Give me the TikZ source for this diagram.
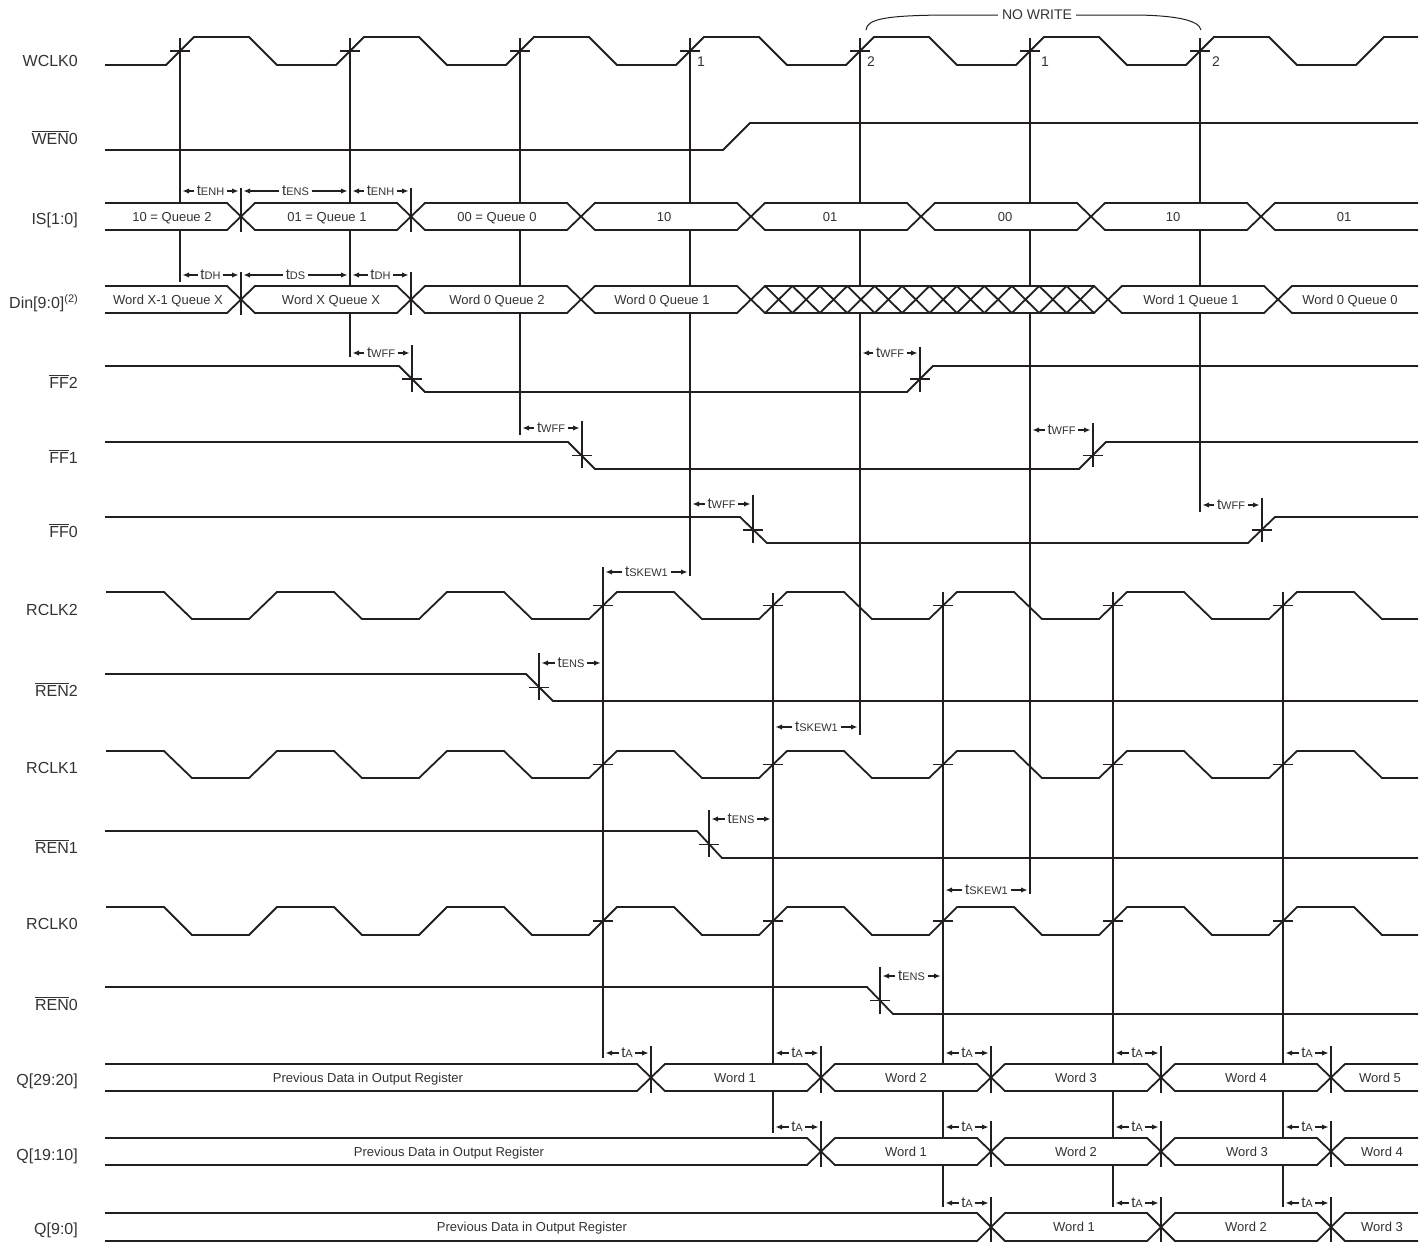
\documentclass[tikz,border=0pt]{standalone}
\usepackage{fontspec}
\setmainfont{Liberation Sans}
\usetikzlibrary{arrows.meta}
\definecolor{ink}{HTML}{231F20}
\definecolor{txt}{HTML}{333333}
\newcommand\ovl[1]{\ensuremath{\overline{\mbox{#1}}}}
\newcommand\tsb[1]{{\fontsize{15}{15}\selectfont t}{\fontsize{11}{11}\selectfont #1}}
\tikzset{
 sig/.style={draw=ink, line width=1.8pt, line join=miter},
 vln/.style={draw=ink, line width=1.5pt},
 tk/.style={draw=ink, line width=1.5pt},
 dimarr/.style={draw=ink, line width=1.3pt, -{Latex[length=6.5pt,width=5.5pt]}},
 tlab/.style={text=txt, inner sep=2.5pt},
 siglab/.style={text=txt, anchor=base east, font=\fontsize{16}{19}\selectfont, inner sep=0pt},
 bustxt/.style={text=txt, font=\fontsize{13}{15}\selectfont, inner sep=0pt, anchor=base},
 num/.style={text=txt, font=\fontsize{14}{16}\selectfont, inner sep=0pt},
 brace/.style={draw=ink, line width=1pt},
}
% bus segment between two transitions
\newcommand\bseg[7]{%
 \draw[sig,fill=white] ({#3+14},#1) -- ({#4-14},#1) -- (#4,{(#1+#2)/2}) -- ({#4-14},#2) -- ({#3+14},#2) -- (#3,{(#1+#2)/2}) -- cycle;
 \node[bustxt] (#7) at (#5,{(#1+#2)/2+4.7}) {#6};}
% open on the left
\newcommand\bsegL[7]{%
 \draw[sig,fill=white] (#3,#1) -- ({#4-14},#1) -- (#4,{(#1+#2)/2}) -- ({#4-14},#2) -- (#3,#2);
 \node[bustxt] (#7) at (#5,{(#1+#2)/2+4.7}) {#6};}
% open on the right
\newcommand\bsegR[7]{%
 \draw[sig,fill=white] (#4,#1) -- ({#3+14},#1) -- (#3,{(#1+#2)/2}) -- ({#3+14},#2) -- (#4,#2);
 \node[bustxt] (#7) at (#5,{(#1+#2)/2+4.7}) {#6};}
% timing dimension
\newcommand\dimA[5]{%
 \node[tlab] (#1) at ({(#2+#3)/2},#4) {\tsb{#5}};
 \draw[dimarr] (#1.west) -- ({#2+2.5},#4);
 \draw[dimarr] (#1.east) -- ({#3-2.5},#4);}
% read clock
\newcommand\rclk[2]{%
 \draw[sig] (106,#1) -- (164,#1) -- (192,#2) foreach \r in {263,433,...,1283} { -- ({\r-14},#2) -- ({\r+14},#1) -- ({\r+71},#1) -- ({\r+99},#2) } -- (1418,#2);}
\begin{document}
\begin{tikzpicture}[x=1pt,y=-1pt]
\useasboundingbox (0,0) rectangle (1427,1243);
% ---------- long vertical reference lines
\foreach \xx/\ya/\yb in {180/38/282, 350/38/357, 520/38/435, 690/38/576, 860/38/735, 1030/38/894, 1200/38/512,
  412/345/392, 920/347/392, 582/421/468, 1093/423/467, 753/495/543, 1262/498/542,
  603/567/1058, 773/593/1133, 943/592/1207, 1113/592/1207, 1283/592/1207,
  539/653/700, 709/810/857, 880/967/1014}
  \draw[vln] (\xx,\ya) -- (\xx,\yb);
% ---------- WCLK0
\draw[sig] (105,65) foreach \r in {180,350,...,1200} { -- ({\r-14},65) -- ({\r+14},37) -- ({\r+69},37) -- ({\r+97},65) } -- (1356,65) -- (1384,37) -- (1418,37);
% ---------- WEN0
\draw[sig] (105,150) -- (723,150) -- (750,123) -- (1418,123);
% ---------- IS[1:0]
\bsegL{203}{230}{105}{241}{172}{10 = Queue 2}{is1}
\bseg{203}{230}{241}{411}{327}{01 = Queue 1}{is2}
\bseg{203}{230}{411}{581}{497}{00 = Queue 0}{is3}
\bseg{203}{230}{581}{751}{664}{10}{is4}
\bseg{203}{230}{751}{921}{830}{01}{is5}
\bseg{203}{230}{921}{1091}{1005}{00}{is6}
\bseg{203}{230}{1091}{1261}{1173}{10}{is7}
\bsegR{203}{230}{1261}{1418}{1344}{01}{is8}
% ---------- Din[9:0]
\bsegL{286}{313}{105}{241}{168}{Word X-1 Queue X}{d1}
\bseg{286}{313}{241}{411}{331}{Word X Queue X}{d2}
\bseg{286}{313}{411}{581}{497}{Word 0 Queue 2}{d3}
\bseg{286}{313}{581}{751}{662}{Word 0 Queue 1}{d4}
\bseg{286}{313}{751}{1108}{930}{}{d5}
\foreach \k in {0,...,11}
  \draw[sig] ({765+27.4167*\k},286) -- ({765+27.4167*(\k+1)},313) ({765+27.4167*\k},313) -- ({765+27.4167*(\k+1)},286);
\bseg{286}{313}{1108}{1278}{1191}{Word 1 Queue 1}{d6}
\bsegR{286}{313}{1278}{1418}{1350}{Word 0 Queue 0}{d7}
% ---------- FF lines
\draw[sig] (105,366) -- (399,366) -- (425,392) -- (907,392) -- (933,366) -- (1418,366);
\draw[sig] (105,442) -- (568,442) -- (595,469) -- (1079,469) -- (1106,442) -- (1418,442);
\draw[sig] (105,517) -- (740,517) -- (767,543) -- (1248,543) -- (1275,517) -- (1418,517);
% ---------- read clocks and enables
\rclk{592}{619}
\draw[sig] (105,674) -- (526,674) -- (553,701) -- (1418,701);
\rclk{751}{778}
\draw[sig] (105,831) -- (697,831) -- (722,858) -- (1418,858);
\rclk{907}{935}
\draw[sig] (105,987) -- (867,987) -- (893,1014) -- (1418,1014);
% ---------- Q[29:20]
\bsegL{1064}{1091}{105}{651}{368}{Previous Data in Output Register}{qa1}
\bseg{1064}{1091}{651}{821}{735}{Word 1}{qa2}
\bseg{1064}{1091}{821}{991}{906}{Word 2}{qa3}
\bseg{1064}{1091}{991}{1161}{1076}{Word 3}{qa4}
\bseg{1064}{1091}{1161}{1331}{1246}{Word 4}{qa5}
\bsegR{1064}{1091}{1331}{1418}{1380}{Word 5}{qa6}
% ---------- Q[19:10]
\bsegL{1138}{1165}{105}{821}{449}{Previous Data in Output Register}{qb1}
\bseg{1138}{1165}{821}{991}{906}{Word 1}{qb2}
\bseg{1138}{1165}{991}{1161}{1076}{Word 2}{qb3}
\bseg{1138}{1165}{1161}{1331}{1247}{Word 3}{qb4}
\bsegR{1138}{1165}{1331}{1418}{1382}{Word 4}{qb5}
% ---------- Q[9:0]
\bsegL{1213}{1241}{105}{991}{532}{Previous Data in Output Register}{qc1}
\bseg{1213}{1241}{991}{1161}{1074}{Word 1}{qc2}
\bseg{1213}{1241}{1161}{1331}{1246}{Word 2}{qc3}
\bsegR{1213}{1241}{1331}{1418}{1382}{Word 3}{qc4}
% ---------- short reference marks on buses
\foreach \xx/\ya/\yb in {241/188/232, 411/188/232, 241/272/315, 411/272/315,
  651/1046/1093, 821/1046/1093, 991/1046/1093, 1161/1046/1093, 1331/1046/1093,
  821/1121/1167, 991/1121/1167, 1161/1121/1167, 1331/1121/1167,
  991/1197/1242, 1161/1197/1242, 1331/1197/1242}
  \draw[vln] (\xx,\ya) -- (\xx,\yb);
% ---------- crossing ticks
\foreach \xx/\yy in {180/51, 350/51, 520/51, 690/51, 860/51, 1030/51, 1200/51,
  412/379, 920/379, 582/455.5, 1093/455.5, 753/530, 1262/530,
  539/687.5, 709/844.5, 880/1000.5}
  \draw[tk] ({\xx-10},\yy) -- ({\xx+10},\yy);
\foreach \xx in {603,773,943,1113,1283}
  \foreach \yy in {605.5,764.5,921}
    \draw[tk] ({\xx-10},\yy) -- ({\xx+10},\yy);
% ---------- edge numbers
\node[num] (n1) at (701,62) {1};
\node[num] (n2) at (871,62) {2};
\node[num] (n3) at (1045,62) {1};
\node[num] (n4) at (1216,62) {2};
% ---------- NO WRITE
\node[text=txt, font=\fontsize{14}{16}\selectfont, inner sep=4pt] (nw) at (1037,15) {NO WRITE};
\draw[brace] (866,30) .. controls (867,19) and (885,15.5) .. (945,15) -- (nw.west);
\draw[brace] (nw.east) -- (1137,15) .. controls (1170,15.5) and (1199,19) .. (1201,30);
% ---------- timing dimensions
\dimA{t1}{180}{241}{191}{ENH}
\dimA{t2}{241}{350}{191}{ENS}
\dimA{t3}{350}{411}{191}{ENH}
\dimA{t4}{180}{241}{275}{DH}
\dimA{t5}{241}{350}{275}{DS}
\dimA{t6}{350}{411}{275}{DH}
\dimA{t7}{350}{412}{353}{WFF}
\dimA{t8}{860}{920}{353}{WFF}
\dimA{t9}{520}{582}{428}{WFF}
\dimA{t10}{1030}{1093}{430}{WFF}
\dimA{t11}{690}{753}{504}{WFF}
\dimA{t12}{1200}{1262}{505}{WFF}
\dimA{t13}{603}{690}{572}{SKEW1}
\dimA{t14}{539}{603}{663}{ENS}
\dimA{t15}{773}{860}{727}{SKEW1}
\dimA{t16}{709}{773}{819}{ENS}
\dimA{t17}{943}{1030}{890}{SKEW1}
\dimA{t18}{880}{943}{976}{ENS}
\dimA{a1}{603}{651}{1053}{A}
\dimA{a2}{773}{821}{1053}{A}
\dimA{a3}{943}{991}{1053}{A}
\dimA{a4}{1113}{1161}{1053}{A}
\dimA{a5}{1283}{1331}{1053}{A}
\dimA{b2}{773}{821}{1127}{A}
\dimA{b3}{943}{991}{1127}{A}
\dimA{b4}{1113}{1161}{1127}{A}
\dimA{b5}{1283}{1331}{1127}{A}
\dimA{c3}{943}{991}{1203}{A}
\dimA{c4}{1113}{1161}{1203}{A}
\dimA{c5}{1283}{1331}{1203}{A}
% ---------- signal names
\node[siglab] (lwclk) at (78,66) {WCLK0};
\node[siglab] (lwen) at (78,144) {\ovl{WEN}0};
\node[siglab] (lis) at (78,224) {IS[1:0]};
\node[siglab] (ldin) at (78,308) {Din[9:0]\raisebox{6pt}{\fontsize{11}{11}\selectfont (2)}};
\node[siglab] (lff2) at (78,388) {\ovl{FF}2};
\node[siglab] (lff1) at (78,463) {\ovl{FF}1};
\node[siglab] (lff0) at (78,537) {\ovl{FF}0};
\node[siglab] (lr2) at (78,615) {RCLK2};
\node[siglab] (lren2) at (78,696) {\ovl{REN}2};
\node[siglab] (lr1) at (78,773) {RCLK1};
\node[siglab] (lren1) at (78,853) {\ovl{REN}1};
\node[siglab] (lr0) at (78,929) {RCLK0};
\node[siglab] (lren0) at (78,1010) {\ovl{REN}0};
\node[siglab] (lq2) at (78,1085) {Q[29:20]};
\node[siglab] (lq1) at (78,1160) {Q[19:10]};
\node[siglab] (lq0) at (78,1234) {Q[9:0]};
\end{tikzpicture}
\end{document}
